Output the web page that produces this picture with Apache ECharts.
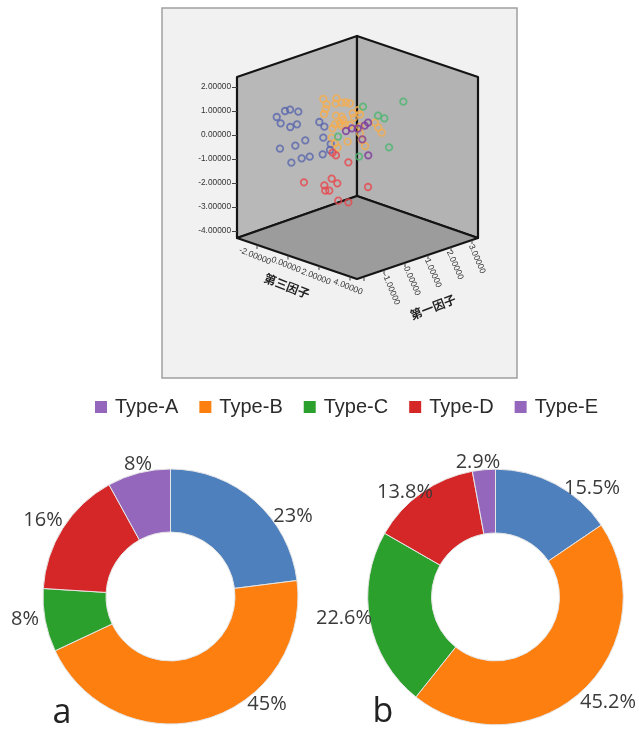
<!DOCTYPE html>
<html>
<head>
<meta charset="utf-8">
<style>
  html, body { margin: 0; background: #fff; }
  #chart { width: 639px; height: 729px; }
</style>
<script src="https://cdn.jsdelivr.net/npm/echarts@6/dist/echarts.min.js"></script>
</head>
<body>
<div id="chart"></div>
<script>
// Scatter points: [screen offset from the back edge
// (-1 left wall .. 1 right wall), vertical factor value]
const BLUE_POINTS = [[-0.6,1],[-0.558,1.056],[-0.489,0.972],[-0.669,0.75],[-0.636,0.486],[-0.556,0.333],[-0.5,0.444],[-0.314,0.542],[-0.272,0.347],[-0.281,-0.111],[-0.431,-0.222],[-0.514,-0.444],[-0.642,-0.569],[-0.547,-1.153],[-0.461,-0.972],[-0.394,-0.903],[-0.286,-0.805],[-0.225,-0.625],[-0.219,-0.375]];
const ORANGE_POINTS = [[-0.281,1.5],[-0.172,1.528],[-0.253,1.278],[-0.178,1.306],[-0.128,1.347],[-0.092,1.361],[-0.058,1.319],[-0.261,1.083],[-0.275,0.875],[-0.175,0.805],[-0.128,0.764],[-0.114,0.625],[-0.128,0.389],[-0.183,0.444],[-0.203,0.278],[-0.036,0.903],[0.011,1.042],[0.025,0.861],[-0.025,0.722],[0.15,0.514],[0.178,0.305],[0.206,0.097],[0.025,0.347],[-0.078,-0.278],[-0.211,-0.111],[-0.161,-0.528],[0.067,-0.458],[0.025,0.069],[0.039,-0.208],[-0.142,0.486],[-0.058,0.417],[-0.1,0.444],[-0.183,-0.347]];
const GREEN_POINTS = [[0.05,1.18],[0.386,1.389],[0.175,0.805],[0.228,0.694],[-0.158,-0.069],[0.267,-0.514],[0.017,-0.903]];
const RED_POINTS = [[-0.203,-0.736],[-0.175,-0.847],[-0.072,-1.139],[-0.442,-1.972],[-0.211,-1.82],[-0.164,-2.014],[-0.272,-2.097],[-0.264,-2.319],[-0.231,-2.319],[0.092,-2.167],[-0.156,-2.736],[-0.072,-2.805]];
const PURPLE_POINTS = [[-0.092,0.167],[-0.042,0.278],[0.006,0.264],[0.064,0.389],[0.092,0.514],[0.044,-0.18],[0.094,-0.847]];

const TYPES = ["Type-A", "Type-B", "Type-C", "Type-D", "Type-E"];
const PIE_A = [23, 45, 8, 16, 8];
const PIE_B = [15.5, 45.2, 22.6, 13.8, 2.9];

const LEFT_FLOOR_TICKS = ["-2.00000", "0.00000", "2.00000", "4.00000"];
const RIGHT_FLOOR_TICKS = ["-1.00000", "0.00000", "1.00000", "2.00000", "3.00000"];

const SLICE_COLORS = ["#4e80bd", "#fd7f0f", "#2ca02c", "#d62728", "#9467bd"];
// the legend in the picture does not use the blue of the first slice
const LEGEND_COLORS = ["#9467bd", "#fd7f0f", "#2ca02c", "#d62728", "#9467bd"];
const INK = "#3a3a3a";
const EDGE = "#141414";
const SMALL_FONT = "'Liberation Sans', Arial, sans-serif";
const PIE_FONT = "'Open Sans', sans-serif";

// Hand-placed percent labels, they sit where the original author dragged them.
const PIE_A_LABELS = [[293, 516], [267, 704], [25, 619], [43, 520], [138, 464]];
const PIE_B_LABELS = [[592, 488], [608, 702], [344, 618], [405, 492], [478, 462]];

function poly(points, fill) {
  return { type: "polygon", z: -1, shape: { points }, style: { fill, stroke: EDGE, lineWidth: 2.2, lineJoin: "round" } };
}

function floorText(text, x, y, rotation) {
  return {
    type: "text", x, y, rotation,
    style: { text, font: "8.5px " + SMALL_FONT, fill: "#333", align: "center", verticalAlign: "middle" },
  };
}

function cjkText(text, x, y, rotation) {
  return {
    type: "text", x, y, rotation,
    style: { text, font: "bold 12px 'Noto Sans CJK SC'", fill: "#222", align: "center", verticalAlign: "middle" },
  };
}

function tick(x, y) {
  return { type: "line", shape: { x1: x, y1: y, x2: x, y2: y + 4 }, style: { stroke: "#444", lineWidth: 1 } };
}

function scatter(name, data, color) {
  return {
    name,
    type: "scatter",
    data,
    symbol: "circle",
    symbolSize: 6.5,
    itemStyle: { color: "rgba(0,0,0,0)", borderColor: color, borderWidth: 1.8 },
  };
}

function donut(values, center, inner, outer, labels) {
  return {
    type: "pie",
    center,
    radius: [inner, outer],
    startAngle: 90,
    clockwise: true,
    avoidLabelOverlap: false,
    animation: false,
    silent: true,
    itemStyle: { borderColor: "#e6e6e6", borderWidth: 1 },
    label: {
      show: true,
      position: "outside",
      formatter: (p) => p.value + "%",
      color: INK,
      fontFamily: PIE_FONT,
      fontSize: 20,
    },
    labelLine: { show: false },
    labelLayout: (p) => ({
      x: labels[p.dataIndex][0],
      y: labels[p.dataIndex][1],
      align: "center",
      verticalAlign: "middle",
    }),
    data: values.map((value, i) => ({
      name: TYPES[i],
      value,
      itemStyle: { color: SLICE_COLORS[i] },
    })),
  };
}

const chart = echarts.init(document.getElementById("chart"), null, { renderer: "canvas" });

chart.setOption({
  animation: false,
  backgroundColor: "#fff",
  grid: { left: 237, top: 87, width: 240, height: 144 },
  xAxis: { type: "value", min: -1, max: 1, show: false },
  yAxis: {
    type: "value",
    min: -4,
    max: 2,
    interval: 1,
    z: 5,
    splitLine: { show: false },
    // the x range crosses zero in the middle of the box, keep the axis on the left wall
    axisLine: { show: false, onZero: false },
    axisTick: { show: true, length: 5, lineStyle: { color: "#444", width: 1 } },
    axisLabel: {
      margin: 6,
      color: "#333",
      fontFamily: SMALL_FONT,
      fontSize: 8.3,
      formatter: (v) => v.toFixed(5),
    },
  },
  legend: {
    left: 90,
    top: 392,
    itemWidth: 12,
    itemHeight: 12,
    itemGap: 21,
    icon: "rect",
    selectedMode: false,
    textStyle: { color: "#2b2b2b", fontFamily: SMALL_FONT, fontSize: 20, padding: [0, 0, 0, 3] },
    data: TYPES.map((name, i) => ({ name, itemStyle: { color: LEGEND_COLORS[i], borderWidth: 0 } })),
  },
  graphic: [
    { type: "rect", z: -2, shape: { x: 162, y: 8, width: 355, height: 370 }, style: { fill: "#f1f1f1", stroke: "#a0a0a0", lineWidth: 1.5 } },
    poly([[237, 77], [357, 36], [357, 196], [237, 238]], "#b8b8b8"),
    poly([[357, 36], [478, 77], [478, 238], [357, 196]], "#b3b3b3"),
    poly([[237, 238], [357, 196], [478, 238], [357, 279]], "#9c9c9c"),
    tick(257, 245), tick(288, 255.5), tick(319, 266), tick(350, 276.5),
    tick(364, 277), tick(384, 270), tick(405, 263), tick(428, 255), tick(451, 247), tick(472, 240),
    floorText(LEFT_FLOOR_TICKS[0], 255, 256, -0.38),
    floorText(LEFT_FLOOR_TICKS[1], 286, 265, -0.38),
    floorText(LEFT_FLOOR_TICKS[2], 316, 277, -0.38),
    floorText(LEFT_FLOOR_TICKS[3], 348, 287, -0.38),
    floorText(RIGHT_FLOOR_TICKS[0], 391, 289, -1.17),
    floorText(RIGHT_FLOOR_TICKS[1], 412, 281, -1.17),
    floorText(RIGHT_FLOOR_TICKS[2], 433, 273, -1.17),
    floorText(RIGHT_FLOOR_TICKS[3], 455, 265, -1.17),
    floorText(RIGHT_FLOOR_TICKS[4], 477, 259, -1.17),
    cjkText("第三因子", 287, 286, -0.37),
    cjkText("第一因子", 433, 307, 0.37),
    { type: "text", x: 62, y: 713, style: { text: "a", font: "34px " + PIE_FONT, fill: "#222", align: "center", verticalAlign: "middle" } },
    { type: "text", x: 383, y: 712, style: { text: "b", font: "34px " + PIE_FONT, fill: "#222", align: "center", verticalAlign: "middle" } },
  ],
  series: [
    scatter("Cluster 1", BLUE_POINTS, "#5a66ad"),
    scatter("Cluster 2", ORANGE_POINTS, "#f5ac4e"),
    scatter("Cluster 3", GREEN_POINTS, "#4cb670"),
    scatter("Cluster 4", RED_POINTS, "#e8474e"),
    scatter("Cluster 5", PURPLE_POINTS, "#7d3a9b"),
    donut(PIE_A, [170.5, 596.5], 64.5, 127.5, PIE_A_LABELS),
    donut(PIE_B, [495.5, 597], 64, 127.8, PIE_B_LABELS),
  ],
});
</script>
</body>
</html>
